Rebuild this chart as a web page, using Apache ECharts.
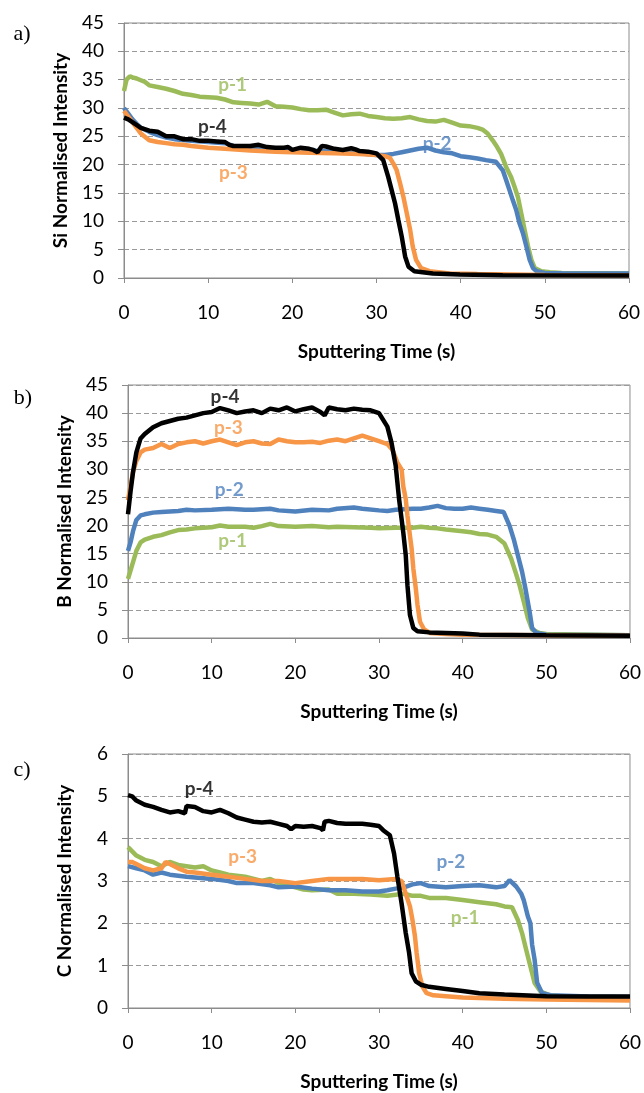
<!DOCTYPE html>
<html>
<head>
<meta charset="utf-8">
<script src="https://cdn.jsdelivr.net/npm/echarts@6/dist/echarts.min.js"></script>
<style>
  html, body { margin: 0; padding: 0; background: #ffffff; }
  #chart { width: 644px; height: 1093px; }
</style>
</head>
<body>
<div id="chart"></div>
<script>
// ---------- DATA ----------
const seriesNames = ['p-1', 'p-2', 'p-3', 'p-4'];
const xTicks = [0, 10, 20, 30, 40, 50, 60];
const panelTitles = ['Si Normalised Intensity', 'B Normalised Intensity', 'C Normalised Intensity'];
const panelLetters = ['a)', 'b)', 'c)'];
const xTitle = 'Sputtering Time (s)';
const yMax = [45, 45, 6];
const yStep = [5, 5, 1];

// Panel a (Si) [time s, intensity]
const siP1 = [[0,33],[0.3,35],[0.7,35.6],[1,35.4],[1.5,35.2],[2,34.9],[2.5,34.6],[3,34],[4,33.7],[5,33.4],[6,33],[7,32.5],[8,32.3],[9,32],[10,31.9],[11,31.8],[12,31.5],[13,31],[14,30.9],[15,30.8],[16,30.6],[17,31.1],[18,30.3],[19,30.2],[20,30.1],[21,29.8],[22,29.6],[23,29.6],[24,29.7],[25,29.2],[26,28.7],[27,28.9],[28,29],[29,28.6],[30,28.4],[31,28.2],[32,28.1],[33,28.2],[34,28.4],[35,28],[36,27.7],[37,27.6],[38,27.9],[39,27.4],[40,26.9],[41,26.8],[42,26.5],[42.6,26.2],[43.2,25.5],[43.8,24.3],[44.3,23.2],[44.8,21.9],[45.4,19.6],[46,17.8],[46.4,16.1],[46.8,14.3],[47.2,11.4],[47.6,8.5],[48,5.6],[48.4,3.2],[48.8,1.75],[49.6,1.2],[50.6,1.0],[52,0.9],[56,0.85],[60,0.8]];
const siP2 = [[0,30],[0.5,29],[1,28],[1.5,27.2],[2,26.5],[3,25.8],[4,25.2],[5,24.8],[6,24.5],[8,24.2],[10,24],[12,23.8],[13,23.3],[15,23],[17,22.8],[20,22.5],[22,22.5],[25,22.3],[28,22],[30,21.7],[31,21.7],[32,21.9],[33,22.2],[34,22.5],[35,22.8],[36,23],[37,22.5],[38,22.2],[39,22],[40,21.5],[41,21.3],[42,21.1],[43,20.8],[44.2,20.5],[45,19],[45.4,17.3],[45.8,15.5],[46.2,13.7],[46.6,12],[47,9.6],[47.4,7.9],[47.8,5.6],[48.2,3.2],[48.6,1.75],[49,1.2],[50,0.9],[52,0.85],[60,0.8]];
const siP3 = [[0,29.5],[0.5,28.5],[1,27.5],[1.5,26.5],[2,25.5],[3,24.3],[4,24],[5,23.8],[6,23.6],[7,23.5],[8,23.3],[10,23],[12,22.8],[15,22.5],[18,22.3],[20,22.2],[22,22.1],[25,22],[28,21.9],[30,21.7],[31,21.5],[31.6,21.2],[32,20.2],[32.4,19],[32.8,16.7],[33.2,14.3],[33.6,11.4],[34,8.5],[34.3,5.6],[34.7,3.2],[35.3,1.75],[36.3,1.2],[38.7,0.8],[42,0.7],[50,0.55],[60,0.5]];
const siP4 = [[0,28.3],[0.5,28],[1,27.5],[2,26.5],[3,26],[4,25.8],[5,25],[6,25],[7,24.5],[8,24.5],[9,24.2],[10,24.2],[11,24.1],[12,24],[12.5,23.5],[13,23.3],[14,23.3],[15,23.3],[16,23.5],[17,23.1],[18,23],[19,23],[19.5,23.1],[20,22.6],[21,23],[22,22.8],[22.5,22.6],[23,22.2],[23.5,23.3],[24,23.2],[25,22.8],[26,22.6],[27,22.9],[27.5,22.7],[28,22.4],[29,22.3],[30,22],[30.8,20.8],[31.4,17.8],[31.8,15.5],[32.2,13.2],[32.6,10.2],[33,7.3],[33.4,3.8],[33.8,2.0],[34.5,1.2],[36.7,0.8],[39.9,0.6],[45,0.5],[60,0.45]];

// Panel b (B)
const bP1 = [[0,10.5],[0.3,12],[0.6,13.5],[1,15.5],[1.5,17],[2,17.5],[3,18],[4,18.3],[5,18.8],[6,19.2],[7,19.3],[8,19.5],[10,19.7],[11,20],[12,19.8],[14,19.8],[15,19.6],[16,19.9],[17,20.3],[18,19.9],[20,19.8],[22,19.9],[24,19.7],[25,19.8],[27,19.7],[29,19.6],[30,19.5],[32,19.6],[34,19.6],[35,19.8],[36,19.6],[37,19.5],[38,19.3],[40,19],[41,18.8],[42,18.5],[43,18.4],[44,18],[45,16.8],[45.8,14.1],[46.3,11.8],[46.8,9.4],[47.3,6.5],[47.8,3.5],[48.3,1.5],[49.2,0.9],[50,0.7],[60,0.5]];
const bP2 = [[0,15.5],[0.3,17],[0.6,19],[1,21],[1.5,21.8],[2,22],[3,22.3],[4,22.4],[5,22.5],[6,22.6],[7,22.8],[8,22.7],[10,22.8],[12,23],[14,22.8],[15,22.8],[17,23],[18,22.7],[20,22.5],[22,22.8],[24,22.7],[25,23],[27,23.2],[28,23],[30,22.7],[31,22.6],[32,22.8],[34,23],[35,23],[36,23.2],[37,23.5],[38,23.1],[39,23],[40,23],[41,23.2],[42,23],[43,22.8],[44,22.6],[44.9,22.4],[45.6,20],[46.1,17.6],[46.6,14.7],[47.1,11.8],[47.5,8.8],[48,4.7],[48.3,1.8],[48.8,0.9],[50,0.6],[60,0.5]];
const bP3 = [[0,24.5],[0.3,27],[0.6,29.5],[1,31.5],[1.5,33],[2,33.5],[3,33.8],[4,34.5],[5,33.8],[6,34.5],[7,34.8],[8,35],[9,34.6],[10,35],[11,35.3],[12,34.8],[13,34.3],[14,34.8],[15,35],[16,34.6],[17,34.5],[18,35.3],[19,35],[20,34.8],[21,34.8],[22,34.9],[23,34.7],[24,35.1],[25,35.3],[26,35],[27,35.5],[28,36],[29,35.5],[30,35],[31,34.5],[31.6,33.5],[32.2,31.2],[32.7,30],[32.9,27],[33.2,24.7],[33.4,21.8],[33.7,18.2],[33.9,15.9],[34.1,12.4],[34.4,8.8],[34.6,5.9],[34.9,2.9],[35.4,1.5],[36.1,0.9],[38,0.7],[40,0.6],[50,0.5],[60,0.4]];
const bP4 = [[0,22],[0.3,26],[0.6,29.5],[1,33],[1.5,35.5],[2,36.3],[3,37.5],[4,38.2],[5,38.6],[6,39],[7,39.2],[8,39.6],[9,40],[10,40.2],[11,40.9],[12,40.5],[13,40],[14,40.3],[15,40.5],[16,40],[17,40.8],[18,40.5],[19,41],[20,40.3],[21,40.7],[22,41],[23,40.2],[23.5,39.6],[24,41],[25,40.7],[26,40.5],[27,40.8],[28,40.6],[29,40.5],[30,40],[31,37.6],[31.5,34.7],[32,30.6],[32.4,24.7],[32.9,18.8],[33.2,14.7],[33.4,9.4],[33.7,4.1],[34.1,1.8],[34.6,1.2],[36,1.0],[38,0.9],[40,0.8],[42,0.6],[50,0.5],[60,0.4]];

// Panel c (C)
const cP1 = [[0,3.8],[0.5,3.7],[1,3.6],[2,3.5],[3,3.45],[4,3.35],[5,3.45],[6,3.38],[7,3.35],[8,3.32],[9,3.35],[10,3.25],[11,3.2],[12,3.15],[14,3.1],[16,3.0],[17,3.05],[18,2.95],[20,2.85],[21,2.8],[22,2.78],[24,2.8],[25,2.7],[27,2.7],[29,2.68],[31,2.65],[33,2.7],[34,2.65],[35,2.65],[36,2.6],[37,2.6],[38,2.6],[40,2.55],[42,2.5],[44,2.45],[45,2.4],[45.9,2.38],[46.6,2.08],[47.1,1.77],[47.6,1.37],[48.1,0.98],[48.6,0.59],[49.3,0.39],[50.3,0.31],[52,0.27],[55,0.25],[60,0.25]];
const cP2 = [[0,3.35],[1,3.3],[2,3.25],[3,3.15],[4,3.2],[5,3.15],[7,3.1],[10,3.05],[12,3.0],[13,2.95],[15,2.95],[17,2.9],[18,2.85],[20,2.87],[22,2.82],[24,2.78],[26,2.78],[28,2.75],[30,2.75],[31,2.78],[32,2.82],[33,2.85],[34,2.92],[35,2.95],[36,2.88],[38,2.85],[40,2.88],[42,2.9],[44,2.85],[45,2.88],[45.6,3.02],[46.4,2.87],[47,2.7],[47.3,2.55],[47.8,2.16],[48.1,2.0],[48.3,1.5],[48.6,1.14],[48.9,0.6],[49.5,0.35],[50.5,0.3],[55,0.27],[60,0.26]];
const cP3 = [[0,3.45],[0.5,3.45],[1,3.4],[2,3.3],[3,3.25],[4,3.3],[4.5,3.45],[5,3.4],[6,3.3],[7,3.22],[8,3.2],[10,3.15],[12,3.1],[14,3.05],[16,3.0],[18,3.0],[20,2.95],[22,3.0],[24,3.05],[26,3.05],[28,3.05],[30,3.02],[32,3.05],[32.7,3.0],[33.2,2.7],[33.7,2.4],[34,2.08],[34.3,1.69],[34.5,1.3],[34.8,0.82],[35.2,0.5],[35.7,0.35],[36.5,0.3],[38,0.28],[40,0.25],[45,0.22],[50,0.2],[60,0.18]];
const cP4 = [[0,5.03],[0.5,5.0],[1,4.9],[2,4.8],[3,4.75],[4,4.68],[5,4.62],[6,4.65],[6.8,4.6],[7,4.77],[8,4.75],[9,4.65],[10,4.62],[11,4.68],[12,4.6],[13,4.5],[14,4.45],[15,4.4],[16,4.38],[17,4.4],[18,4.35],[19,4.3],[19.5,4.22],[20,4.3],[21,4.28],[22,4.3],[23,4.25],[23.3,4.2],[23.5,4.4],[24,4.42],[25,4.37],[26,4.35],[27,4.35],[28,4.35],[29,4.33],[30,4.3],[30.5,4.2],[31.3,4.08],[31.8,3.65],[32.2,3.1],[32.7,2.47],[33.2,1.77],[33.6,1.3],[33.9,0.82],[34.4,0.63],[35,0.55],[36,0.5],[38,0.45],[40,0.4],[42,0.35],[45,0.32],[50,0.28],[55,0.27],[60,0.27]];

// In-plot series labels: [time, intensity] anchor for each name, per panel
const labelPosA = [[12.9, 34], [37.2, 23.7], [13, 18.6], [10.5, 26.6]];
const labelPosB = [[12.5, 17.2], [12.1, 26.4], [12, 37.4], [11.6, 42.9]];
const labelPosC = [[40.3, 2.12], [38.6, 3.46], [13.7, 3.56], [8.5, 5.18]];

// ---------- STYLE ----------
const colors = ['#9BBB59', '#4F81BD', '#F79646', '#000000'];
const panels = [
  { data: [siP1, siP2, siP3, siP4], labels: labelPosA },
  { data: [bP1, bP2, bP3, bP4], labels: labelPosB },
  { data: [cP1, cP2, cP3, cP4], labels: labelPosC }
];
const grids = [
  { left: 124, top: 23, width: 505, height: 255 },
  { left: 128, top: 385, width: 505, height: 253 },
  { left: 128, top: 754, width: 506, height: 254 }
];
const letterPos = [[22, 34], [23, 398], [22, 770]];
const axisGray = '#8c8c8c';
const FONT = 'Lato';

const chart = echarts.init(document.getElementById('chart'), null, { renderer: 'canvas' });

const option = {
  animation: false,
  backgroundColor: '#ffffff',
  grid: grids.map(g => Object.assign({ show: true, borderColor: axisGray, borderWidth: 1, backgroundColor: 'transparent' }, g)),
  xAxis: grids.map((g, i) => ({
    type: 'value', gridIndex: i, min: 0, max: 60, interval: 10,
    axisLine: { onZero: false, lineStyle: { color: axisGray, width: 1 } },
    axisTick: { show: true, length: 5, lineStyle: { color: axisGray } },
    splitLine: { show: false },
    axisLabel: { fontFamily: FONT, fontSize: 19, color: '#000', margin: 25 },
    name: xTitle, nameLocation: 'middle', nameGap: 64,
    nameTextStyle: { fontFamily: FONT, fontWeight: 'bold', fontSize: 19, color: '#000' }
  })),
  yAxis: grids.map((g, i) => ({
    type: 'value', gridIndex: i, min: 0, max: yMax[i], interval: yStep[i],
    axisLine: { show: true, lineStyle: { color: axisGray, width: 1 } },
    axisTick: { show: true, length: 6, lineStyle: { color: axisGray } },
    splitLine: { show: true, lineStyle: { color: '#9a9a9a', width: 1, type: [5, 3] } },
    axisLabel: { fontFamily: FONT, fontSize: 19, color: '#000', margin: 20 },
    name: panelTitles[i], nameLocation: 'middle', nameRotate: 90, nameGap: 54,
    nameTextStyle: { fontFamily: FONT, fontWeight: 'bold', fontSize: 19, color: '#000' }
  })),
  graphic: panelLetters.map((t, i) => ({
    type: 'text', x: letterPos[i][0], y: letterPos[i][1],
    style: { text: t, font: '22px "Liberation Serif", "Times New Roman", serif', fill: '#000', textAlign: 'center', textVerticalAlign: 'middle' }
  })),
  series: []
};

panels.forEach((p, i) => {
  p.data.forEach((d, k) => {
    option.series.push({
      type: 'line', name: seriesNames[k] + '-' + i, xAxisIndex: i, yAxisIndex: i,
      data: d, showSymbol: false, symbol: 'none', smooth: false,
      lineStyle: { color: colors[k], width: 4.5 }, itemStyle: { color: colors[k] },
      z: 2 + k, silent: true
    });
  });
  p.labels.forEach((pos, k) => {
    option.series.push({
      type: 'scatter', xAxisIndex: i, yAxisIndex: i, symbolSize: 0, silent: true, z: 10,
      data: [pos],
      label: { show: true, position: 'inside', formatter: seriesNames[k], color: colors[k], fontFamily: FONT, fontWeight: 'bold', fontSize: 19 }
    });
  });
});

chart.setOption(option);
</script>
</body>
</html>
